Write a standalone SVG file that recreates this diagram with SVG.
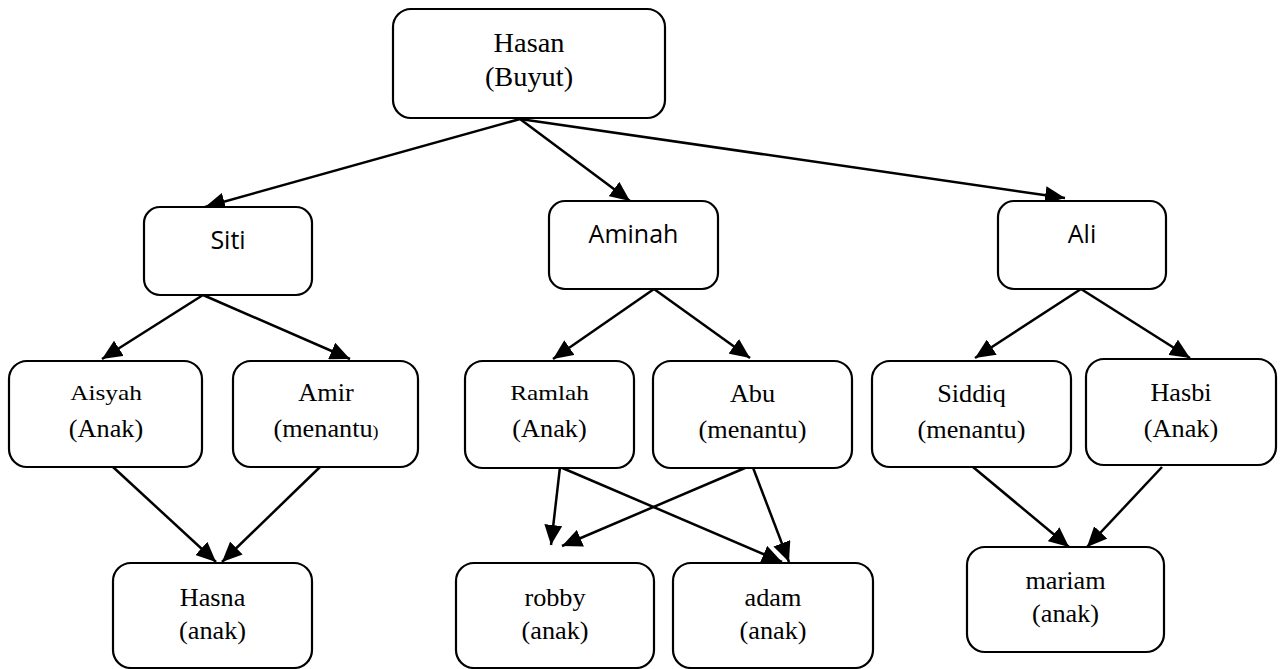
<svg xmlns="http://www.w3.org/2000/svg" width="1287" height="669" viewBox="0 0 1287 669">
  <style>
    .box { fill: #ffffff; stroke: #000000; stroke-width: 2.2; }
    .serif { font-family: "Liberation Serif", "Times New Roman", serif; font-size: 25px; fill: #000000; text-anchor: middle; }
    .big { font-size: 27px; }
    .small { font-size: 22px; }
    .sans { font-family: "Open Sans", "Liberation Sans", sans-serif; font-size: 25px; fill: #000000; text-anchor: middle; }
    .link { stroke: #000000; stroke-width: 2.5; fill: none; marker-end: url(#head); }
  </style>
  <defs>
    <marker id="head" markerUnits="userSpaceOnUse" markerWidth="22" markerHeight="18" refX="20" refY="9" orient="auto">
      <path d="M0,0 L20,9 L0,18 Z" fill="#000000"/>
    </marker>
  </defs>

  <!-- connectors -->
  <g id="connectors">
    <line class="link" x1="520" y1="119" x2="205" y2="207"/>
    <line class="link" x1="520" y1="119" x2="630" y2="201"/>
    <line class="link" x1="520" y1="119" x2="1065" y2="198"/>

    <line class="link" x1="203" y1="295" x2="102" y2="359"/>
    <line class="link" x1="203" y1="295" x2="350" y2="359"/>

    <line class="link" x1="654" y1="289" x2="553" y2="359"/>
    <line class="link" x1="654" y1="289" x2="750" y2="358"/>

    <line class="link" x1="1081" y1="289" x2="975" y2="358"/>
    <line class="link" x1="1081" y1="289" x2="1190" y2="358"/>

    <line class="link" x1="113" y1="467" x2="216" y2="562"/>
    <line class="link" x1="320" y1="467" x2="222" y2="562"/>

    <line class="link" x1="560" y1="467" x2="551" y2="545"/>
    <line class="link" x1="560" y1="467" x2="782" y2="562"/>
    <line class="link" x1="752" y1="465" x2="562" y2="546"/>
    <line class="link" x1="752" y1="465" x2="789" y2="562"/>

    <line class="link" x1="973" y1="467" x2="1069" y2="547"/>
    <line class="link" x1="1162" y1="467" x2="1087" y2="547"/>
  </g>

  <g id="hasan">
    <rect class="box" x="393" y="9" width="272" height="109" rx="18"/>
    <text class="serif big" transform="translate(529,52) scale(1.05 1)"><tspan x="0">Hasan</tspan><tspan x="0" dy="34">(Buyut)</tspan></text>
  </g>

  <g id="siti">
    <rect class="box" x="144" y="207" width="168" height="88" rx="16"/>
    <text class="sans" x="228" y="249">Siti</text>
  </g>
  <g id="aminah">
    <rect class="box" x="549" y="201" width="169" height="88" rx="16"/>
    <text class="sans" x="633.5" y="243">Aminah</text>
  </g>
  <g id="ali">
    <rect class="box" x="998" y="201" width="168" height="88" rx="16"/>
    <text class="sans" x="1082" y="243">Ali</text>
  </g>

  <g id="aisyah">
    <rect class="box" x="9" y="361" width="193" height="106" rx="18"/>
    <text class="serif small" transform="translate(106,400) scale(1.15 1)">Aisyah</text>
    <text class="serif" transform="translate(106,437) scale(1.05 1)">(Anak)</text>
  </g>
  <g id="amir">
    <rect class="box" x="233" y="361" width="185" height="106" rx="18"/>
    <text class="serif" transform="translate(326,401) scale(1.05 1)"><tspan x="0">Amir</tspan><tspan x="0" dy="36">(menantu<tspan font-size="17">)</tspan></tspan></text>
  </g>
  <g id="ramlah">
    <rect class="box" x="465" y="361" width="169" height="107" rx="18"/>
    <text class="serif small" transform="translate(549.5,400) scale(1.15 1)">Ramlah</text>
    <text class="serif" transform="translate(549.5,437) scale(1.05 1)">(Anak)</text>
  </g>
  <g id="abu">
    <rect class="box" x="653" y="361" width="199" height="107" rx="18"/>
    <text class="serif" transform="translate(752.5,402) scale(1.05 1)"><tspan x="0">Abu</tspan><tspan x="0" dy="36">(menantu)</tspan></text>
  </g>
  <g id="siddiq">
    <rect class="box" x="872" y="361" width="199" height="106" rx="18"/>
    <text class="serif" transform="translate(971.5,402) scale(1.05 1)"><tspan x="0">Siddiq</tspan><tspan x="0" dy="36">(menantu)</tspan></text>
  </g>
  <g id="hasbi">
    <rect class="box" x="1086" y="359" width="190" height="106" rx="18"/>
    <text class="serif" transform="translate(1181,401) scale(1.05 1)"><tspan x="0">Hasbi</tspan><tspan x="0" dy="36">(Anak)</tspan></text>
  </g>

  <g id="hasna">
    <rect class="box" x="113" y="563" width="199" height="105" rx="18"/>
    <text class="serif" transform="translate(212.5,606) scale(1.05 1)"><tspan x="0">Hasna</tspan><tspan x="0" dy="33">(anak)</tspan></text>
  </g>
  <g id="robby">
    <rect class="box" x="456" y="563" width="198" height="105" rx="18"/>
    <text class="serif" transform="translate(555,606) scale(1.05 1)"><tspan x="0">robby</tspan><tspan x="0" dy="33">(anak)</tspan></text>
  </g>
  <g id="adam">
    <rect class="box" x="673" y="563" width="200" height="105" rx="18"/>
    <text class="serif" transform="translate(773,606) scale(1.05 1)"><tspan x="0">adam</tspan><tspan x="0" dy="33">(anak)</tspan></text>
  </g>
  <g id="mariam">
    <rect class="box" x="967" y="547" width="197" height="105" rx="18"/>
    <text class="serif" transform="translate(1065.5,589) scale(1.05 1)"><tspan x="0">mariam</tspan><tspan x="0" dy="33">(anak)</tspan></text>
  </g>
</svg>
